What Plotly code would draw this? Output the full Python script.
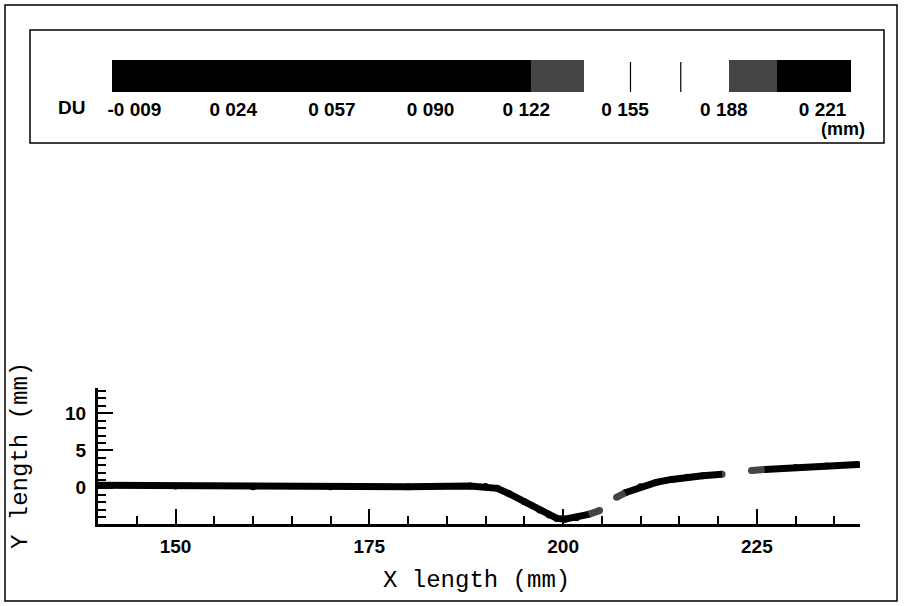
import plotly.graph_objects as go

# Deformed strip centre line (mm) and the DU displacement carried along it (mm)
x_pos = [140.0, 150.0, 160.0, 170.0, 180.0, 188.0, 190.0, 191.5, 193.0, 195.0,
         197.0, 198.2, 199.2, 200.2, 201.7, 203.3, 204.7, 205.8, 206.9, 208.0,
         210.0, 212.0, 214.0, 216.0, 218.0, 220.5, 222.4, 224.3, 226.0, 230.0,
         234.0, 238.0]
y_pos = [0.3, 0.2, 0.1, 0.1, 0.1, 0.2, 0.15, -0.1, -0.8, -1.9,
         -3.0, -3.7, -4.15, -4.25, -4.05, -3.6, -3.1, -2.2, -1.3, -0.7,
         0.1, 0.7, 1.1, 1.4, 1.6, 1.8, 2.05, 2.3, 2.45, 2.7,
         2.9, 3.1]
du = [0.000, 0.010, 0.025, 0.040, 0.055, 0.070, 0.078, 0.084, 0.090, 0.097,
      0.103, 0.108, 0.111, 0.114, 0.117, 0.122, 0.130, 0.160, 0.195, 0.210,
      0.212, 0.214, 0.215, 0.214, 0.212, 0.200, 0.170, 0.195, 0.215, 0.220,
      0.225, 0.228]

# Contour legend
du_ticks = [-0.009, 0.024, 0.057, 0.090, 0.122, 0.155, 0.188, 0.221]
du_tick_text = ["-0 009", "0 024", "0 057", "0 090", "0 122", "0 155", "0 188", "0 221"]
du_min, du_max = -0.0165, 0.2305
# band edges of the grey-level contour map
band_edges = [0.1237, 0.1414, 0.1897, 0.2057]
band_colors = ["#000000", "#444444", "rgba(255,255,255,0)", "#444444", "#000000"]
# thin contour separators inside the light band
light_levels = [0.1568, 0.1736]

W, H = 904, 606


def band_color(v):
    for edge, col in zip(band_edges, band_colors):
        if v < edge:
            return col
    return band_colors[-1]


def norm(v):
    return (v - du_min) / (du_max - du_min)


# stepped colour scale
cscale = []
lo = 0.0
for edge, col in zip(band_edges, band_colors):
    cscale.append([lo, col])
    cscale.append([norm(edge), col])
    lo = norm(edge)
cscale.append([lo, band_colors[-1]])
cscale.append([1.0, band_colors[-1]])

sans = "Liberation Sans, Arial"
fig = go.Figure()

# colour-mapped nodes (also owns the legend bar)
fig.add_trace(go.Scatter(
    x=x_pos, y=y_pos, mode="markers",
    marker=dict(size=7, color=du, colorscale=cscale, cmin=du_min, cmax=du_max,
                showscale=True,
                colorbar=dict(
                    orientation="h",
                    x=(112 + 851) / 2 / W, xanchor="center",
                    y=1 - 60 / H, yanchor="top",
                    len=(851 - 112) / W, lenmode="fraction",
                    thickness=32, thicknessmode="pixels",
                    xpad=0, ypad=0, outlinewidth=0,
                    tickvals=du_ticks, ticktext=du_tick_text,
                    ticks="outside", ticklen=2, tickcolor="rgba(0,0,0,0)",
                    tickfont=dict(family=sans, size=19, color="black", weight="bold"),
                )),
    hoverinfo="skip", showlegend=False,
))

# thick strip, each segment shaded by its mean DU band
runs = {}
for i in range(len(x_pos) - 1):
    col = band_color((du[i] + du[i + 1]) / 2)
    xs, ys = runs.setdefault(col, ([], []))
    if xs and xs[-1] == x_pos[i]:
        xs.append(x_pos[i + 1]); ys.append(y_pos[i + 1])
    else:
        if xs:
            xs.append(None); ys.append(None)
        xs.extend([x_pos[i], x_pos[i + 1]]); ys.extend([y_pos[i], y_pos[i + 1]])
for col, (xs, ys) in runs.items():
    fig.add_trace(go.Scatter(x=xs, y=ys, mode="lines",
                             line=dict(color=col, width=7),
                             hoverinfo="skip", showlegend=False))

tick_font = dict(family=sans, size=19, color="black", weight="bold")
fig.update_xaxes(
    domain=[98 / W, 860 / W], range=[140, 238.3],
    showgrid=False, zeroline=False, showline=True, linecolor="black", linewidth=3,
    ticks="inside", ticklen=15, tickwidth=2, tickcolor="black",
    tick0=0, dtick=25, tickfont=tick_font, ticklabelstandoff=3,
    minor=dict(ticks="inside", ticklen=8, tickwidth=1.5, tickcolor="black", dtick=5, showgrid=False),
)
fig.update_yaxes(
    domain=[(H - 524) / H, (H - 388) / H], range=[-4.9, 13.4],
    showgrid=False, zeroline=False, showline=True, linecolor="black", linewidth=3,
    ticks="inside", ticklen=15, tickwidth=2, tickcolor="black",
    tick0=0, dtick=5, tickfont=tick_font, ticklabelstandoff=5,
    minor=dict(ticks="inside", ticklen=8, tickwidth=1.5, tickcolor="black", dtick=1, showgrid=False),
)

mono = dict(family="Liberation Mono, Courier New, monospace", size=24, color="black")
fig.add_annotation(text="X length (mm)", x=477 / W, y=1 - 580 / H, xref="paper", yref="paper",
                   showarrow=False, font=mono, xanchor="center", yanchor="middle")
fig.add_annotation(text="Y length (mm)", x=20 / W, y=1 - 456 / H, xref="paper", yref="paper",
                   showarrow=False, font=mono, textangle=-90, xanchor="center", yanchor="middle")
fig.add_annotation(text="DU", x=71 / W, y=1 - 108 / H, xref="paper", yref="paper",
                   showarrow=False, xanchor="center", yanchor="middle",
                   font=dict(family=sans, size=19, color="black", weight="bold"))
fig.add_annotation(text="(mm)", x=843 / W, y=1 - 129 / H, xref="paper", yref="paper",
                   showarrow=False, xanchor="center", yanchor="middle",
                   font=dict(family=sans, size=18, color="black", weight="bold"))

bar_l, bar_r = 112 / W, 851 / W
for v in light_levels:
    px = bar_l + norm(v) * (bar_r - bar_l)
    fig.add_shape(type="line", xref="paper", yref="paper", x0=px, x1=px,
                  y0=1 - 92 / H, y1=1 - 62 / H, line=dict(color="black", width=1.2))

# legend box and outer frame
fig.add_shape(type="rect", xref="paper", yref="paper",
              x0=30 / W, x1=884 / W, y0=1 - 143 / H, y1=1 - 30 / H,
              line=dict(color="black", width=1.5))
fig.add_shape(type="rect", xref="paper", yref="paper",
              x0=5 / W, x1=897 / W, y0=1 - 601 / H, y1=1 - 5 / H,
              line=dict(color="black", width=1.5))

fig.update_layout(
    width=W, height=H, margin=dict(l=0, r=0, t=0, b=0),
    paper_bgcolor="white", plot_bgcolor="white",
)

fig.write_html("out.html")
